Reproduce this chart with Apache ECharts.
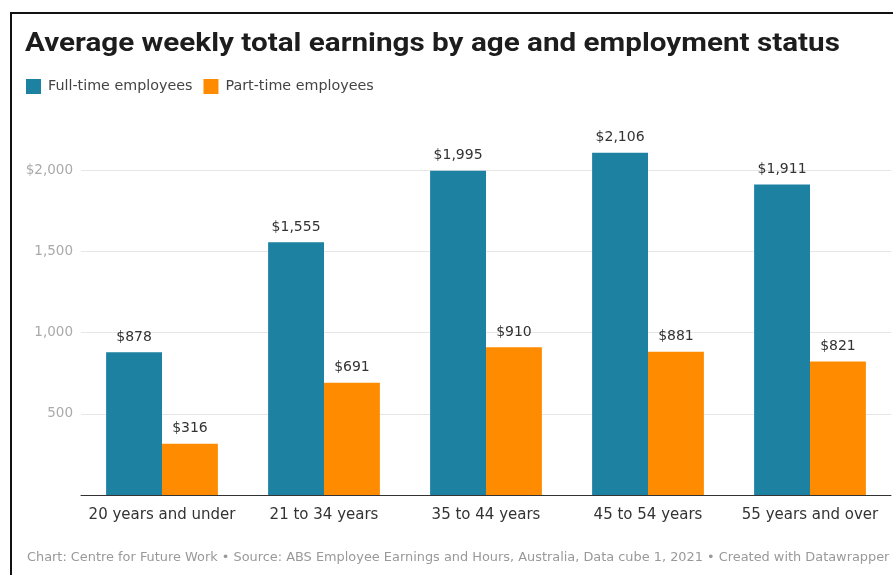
<!DOCTYPE html>
<html>
<head>
<meta charset="utf-8">
<script src="https://cdn.jsdelivr.net/npm/echarts@6/dist/echarts.min.js"></script>
<style>
  html, body { margin: 0; padding: 0; background: #fff; }
  #chart { width: 893px; height: 575px; }
</style>
</head>
<body>
<div id="chart"></div>
<script>
// Age groups on the x axis
const categories = ['20 years and under', '21 to 34 years', '35 to 44 years', '45 to 54 years', '55 years and over'];
// Average weekly total earnings, dollars
const fullTime = [878, 1555, 1995, 2106, 1911];
const partTime = [316, 691, 910, 881, 821];
// Value axis ticks
const yTicks = [0, 500, 1000, 1500, 2000];

const money = v => '$' + v.toLocaleString('en-US');
const bodyFont = '"DejaVu Sans", "Noto Sans", sans-serif';
const titleFont = 'Roboto, "Noto Sans", sans-serif';

const chart = echarts.init(document.getElementById('chart'), null, { renderer: 'canvas' });

chart.setOption({
  animation: false,
  textStyle: { fontFamily: bodyFont },
  legend: {
    left: 21, top: 74,
    itemWidth: 15, itemHeight: 15, itemGap: 11,
    icon: 'rect',
    textStyle: { fontSize: 14.3, color: '#444', fontFamily: bodyFont, padding: [0, 0, 0, 2] },
    data: ['Full-time employees', 'Part-time employees']
  },
  grid: { left: 81, right: 2, top: 170, bottom: 80, containLabel: false },
  xAxis: {
    type: 'category',
    data: categories,
    axisTick: { show: false },
    axisLine: { lineStyle: { color: '#333', width: 1 } },
    axisLabel: { interval: 0, fontSize: 15, color: '#333', margin: 13, fontFamily: bodyFont }
  },
  yAxis: {
    type: 'value',
    min: yTicks[0], max: yTicks[yTicks.length - 1], interval: 500,
    axisLine: { show: false },
    axisTick: { show: false },
    splitLine: { lineStyle: { color: '#e6e6e6', width: 1 } },
    axisLabel: {
      fontSize: 13.5, color: '#aaa', margin: 8, fontFamily: bodyFont,
      formatter: v => v === 0 ? '' : (v === 2000 ? '$2,000' : v.toLocaleString('en-US'))
    }
  },
  series: [
    {
      name: 'Full-time employees', type: 'bar', data: fullTime,
      itemStyle: { color: '#1d81a2' },
      barGap: '0%', barCategoryGap: '31%', clip: false,
      label: { show: true, position: 'top', distance: 8, fontSize: 14, color: '#333', fontFamily: bodyFont, formatter: p => money(p.value) }
    },
    {
      name: 'Part-time employees', type: 'bar', data: partTime,
      itemStyle: { color: '#ff8c00' },
      clip: false,
      label: { show: true, position: 'top', distance: 8, fontSize: 14, color: '#333', fontFamily: bodyFont, formatter: p => money(p.value) }
    }
  ],
  graphic: [
    {
      type: 'polyline',
      shape: { points: [[11, 575], [11, 13], [893, 13]] },
      style: { stroke: '#111', lineWidth: 2, fill: null }
    },
    {
      // headline, widened slightly to fill the card
      type: 'text', x: 25, y: 31, scaleX: 1.14,
      style: {
        x: 0, y: 0,
        text: 'Average weekly total earnings by age and employment status',
        fontSize: 26, fontWeight: 'bold', fill: '#1d1d1d', fontFamily: titleFont,
        verticalAlign: 'top'
      }
    },
    {
      type: 'text', left: 27, top: 551,
      style: {
        text: 'Chart: Centre for Future Work • Source: ABS Employee Earnings and Hours, Australia, Data cube 1, 2021 • Created with Datawrapper',
        fontSize: 12.9, fill: '#999', fontFamily: bodyFont
      }
    }
  ]
});
</script>
</body>
</html>
